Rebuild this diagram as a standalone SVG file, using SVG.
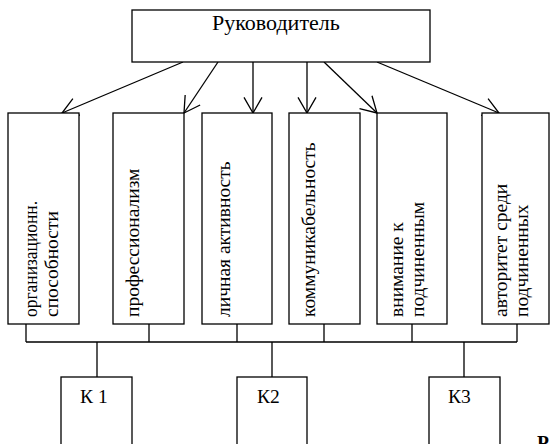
<svg xmlns="http://www.w3.org/2000/svg" width="550" height="444" viewBox="0 0 550 444">
<defs>
<style>
.box{fill:#fff;stroke:#000;stroke-width:1.3}
.ln{fill:none;stroke:#000;stroke-width:1.3}
text{font-family:'Liberation Serif','Times New Roman',serif;font-size:19.5px;fill:#000}
.top{font-size:22px}
</style>
<marker id="arr" viewBox="-17 -10 18 20" refX="0" refY="0" markerWidth="18" markerHeight="20" markerUnits="userSpaceOnUse" orient="auto">
<path d="M-15.6,-9 L0,0 L-15.6,9" fill="none" stroke="#000" stroke-width="1.3"/>
</marker>
</defs>
<rect width="550" height="444" fill="#fff"/>
<g id="connectors">
<line class="ln" x1="183" y1="62" x2="62" y2="113" marker-end="url(#arr)"/>
<line class="ln" x1="218" y1="62" x2="184" y2="113" marker-end="url(#arr)"/>
<line class="ln" x1="253" y1="62" x2="253" y2="113" marker-end="url(#arr)"/>
<line class="ln" x1="307" y1="62" x2="307" y2="113" marker-end="url(#arr)"/>
<line class="ln" x1="324" y1="62" x2="377" y2="113" marker-end="url(#arr)"/>
<line class="ln" x1="377" y1="62" x2="499" y2="113" marker-end="url(#arr)"/>
<path class="ln" d="M26,324V342M149,324V342M237,324V342M324,324V342M412,324V342M517,324V342M26,342H517M97,342V377M272,342V377M464,342V377"/>
</g>
<g id="n-head">
<rect class="box" x="132" y="10" width="298" height="52"/>
<text class="top" x="212" y="30">Руководитель</text>
</g>
<g id="n-org">
<rect class="box" x="8" y="113" width="71" height="211"/>
<text transform="translate(37,317) rotate(-90)" textLength="116" lengthAdjust="spacingAndGlyphs">организационн.</text>
<text transform="translate(58,317) rotate(-90)">способности</text>
</g>
<g id="n-prof">
<rect class="box" x="113" y="113" width="71" height="211"/>
<text transform="translate(139,317) rotate(-90)">профессионализм</text>
</g>
<g id="n-act">
<rect class="box" x="202" y="113" width="70" height="211"/>
<text transform="translate(230,317) rotate(-90)">личная активность</text>
</g>
<g id="n-comm">
<rect class="box" x="289" y="113" width="71" height="211"/>
<text transform="translate(315,317) rotate(-90)">коммуникабельность</text>
</g>
<g id="n-att">
<rect class="box" x="377" y="113" width="70" height="211"/>
<text transform="translate(403,317) rotate(-90)">внимание к</text>
<text transform="translate(424,317) rotate(-90)">подчиненным</text>
</g>
<g id="n-auth">
<rect class="box" x="482" y="113" width="67" height="211"/>
<text transform="translate(507,317) rotate(-90)">авторитет среди</text>
<text transform="translate(528,317) rotate(-90)">подчиненных</text>
</g>
<g id="n-k1">
<rect class="box" x="61" y="377" width="71" height="90"/>
<text x="80" y="403">К 1</text>
</g>
<g id="n-k2">
<rect class="box" x="237" y="377" width="70" height="90"/>
<text x="257" y="403">К2</text>
</g>
<g id="n-k3">
<rect class="box" x="429" y="377" width="71" height="90"/>
<text x="448" y="403">К3</text>
</g>
<text x="537" y="449" font-weight="bold">Р</text>
</svg>
